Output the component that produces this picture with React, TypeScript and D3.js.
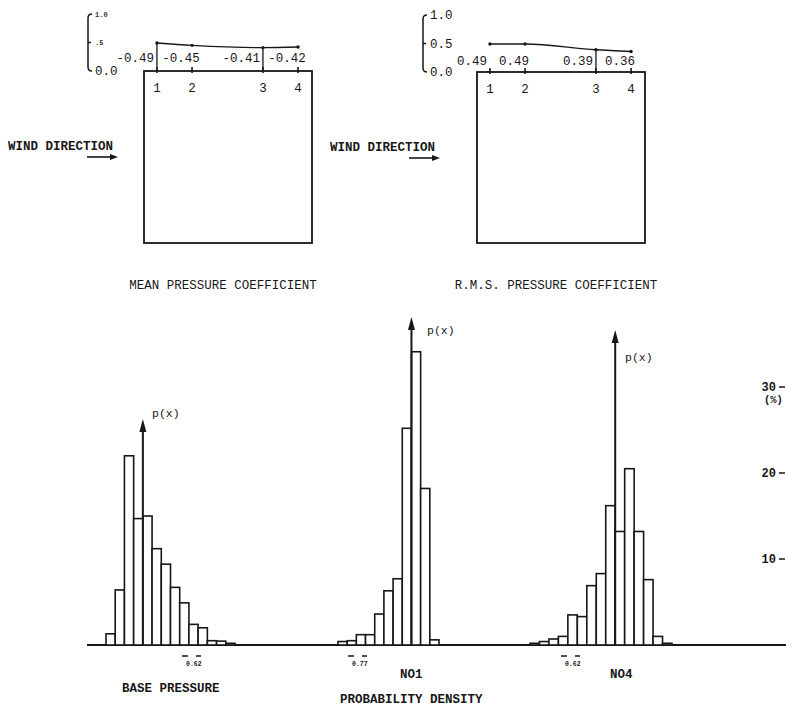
import React from "react";
import * as d3 from "d3";

// ---- data ----
const tapLabels = ["1", "2", "3", "4"];
const tapLocation = [0.077, 0.286, 0.708, 0.917]; // fraction of roof length
const meanCp = [-0.49, -0.45, -0.41, -0.42];
const rmsCp = [0.49, 0.49, 0.39, 0.36];
const coefTicks = [0, 0.5, 1.0];
const meanTickLabels = ["0.0", ".5", "1.0"];
const rmsTickLabels = ["0.0", "0.5", "1.0"];
const meanConnectors = [0, 2];
const rmsConnectors = [2];

const basePressure = [1.3, 6.4, 22.0, 14.7, 15.0, 11.2, 9.4, 6.7, 4.9, 2.4, 2.0, 0.5, 0.45, 0.2];
const no1 = [0.4, 0.5, 1.2, 1.2, 3.6, 6.3, 7.7, 25.2, 34.1, 18.2, 0.6];
const no4 = [0.2, 0.4, 0.7, 1.0, 3.5, 3.3, 6.9, 8.3, 16.2, 13.2, 20.5, 13.2, 7.6, 1.0, 0.2];
const zeroEdges = [4, 8, 9];
const peakLabels = ["0.62", "0.77", "0.62"];
const histNames = ["BASE PRESSURE", "NO1", "NO4"];
const pctTicks = [10, 20, 30];

const ink = "#171717";
const mono = "'Liberation Mono', 'DejaVu Sans Mono', monospace";

function Diagram(props: {
  values: number[];
  left: number;
  right: number;
  top: number;
  bottom: number;
  axisX: number;
  tickLabels: string[];
  faintTicks: boolean;
  connectors: number[];
  labelBaseline: number;
  title: string;
  windX: number;
  windY: number;
}) {
  const { values, left, right, top, bottom, axisX, tickLabels, faintTicks, connectors, labelBaseline, title, windX, windY } = props;
  const x = d3.scaleLinear().domain([0, 1]).range([left, right]);
  const y = d3.scaleLinear().domain([0, 1]).range([top, top - 57]);
  const pts: [number, number][] = values.map((v, i) => [x(tapLocation[i]), y(Math.abs(v))]);
  const line = d3.line().curve(d3.curveMonotoneX)(pts) || "";
  const bracket = `M${axisX + 4},${y(1)} Q${axisX},${y(1)} ${axisX},${y(1) + 4} L${axisX},${y(0) - 4} Q${axisX},${y(0)} ${axisX + 4},${y(0)}`;
  return (
    <g>
      {/* scale bracket */}
      <path d={bracket} fill="none" stroke={ink} strokeWidth={1.5} />
      <line x1={axisX} x2={axisX + 3} y1={y(0.5)} y2={y(0.5)} stroke={ink} strokeWidth={1.5} />
      {coefTicks.map((t, i) => {
        const faint = faintTicks && i > 0;
        return (
          <text
            key={i}
            x={axisX + 7}
            y={y(t) + (faint ? 2.5 : 4)}
            fontFamily={mono}
            fontSize={faint ? 7 : 12.5}
            fontWeight={faint ? "bold" : "normal"}
            fill={faint ? "#333" : ink}
          >
            {tickLabels[i]}
          </text>
        );
      })}
      {/* building box */}
      <rect x={left} y={top} width={right - left} height={bottom - top} fill="none" stroke={ink} strokeWidth={1.8} />
      {/* profile */}
      <path d={line} fill="none" stroke={ink} strokeWidth={1.4} />
      {pts.map((p, i) => (
        <g key={i}>
          <circle cx={p[0]} cy={p[1]} r={1.7} fill={ink} />
          <line x1={p[0]} x2={p[0]} y1={top - 4} y2={top + 2} stroke={ink} strokeWidth={1.6} />
          <text x={p[0]} y={top + 21} textAnchor="middle" fontFamily={mono} fontSize={12.5} fill={ink}>
            {tapLabels[i]}
          </text>
        </g>
      ))}
      {connectors.map((ci) => (
        <line key={ci} x1={pts[ci][0]} x2={pts[ci][0]} y1={pts[ci][1]} y2={top} stroke={ink} strokeWidth={1.3} />
      ))}
      {values.map((v, i) => {
        const isConn = i === 0 || i === 2;
        return (
          <text
            key={i}
            x={isConn ? pts[i][0] - 3 : pts[i][0] - 11}
            y={labelBaseline}
            textAnchor={isConn ? "end" : "middle"}
            fontFamily={mono}
            fontSize={12.5}
            fill={ink}
          >
            {v.toFixed(2)}
          </text>
        );
      })}
      {/* wind direction */}
      <text x={windX} y={windY} fontFamily={mono} fontWeight="bold" fontSize={12.5} fill={ink}>
        WIND DIRECTION
      </text>
      <line x1={windX + 79} x2={windX + 104} y1={windY + 7} y2={windY + 7} stroke={ink} strokeWidth={1.6} />
      <path d={`M${windX + 110},${windY + 7} L${windX + 102},${windY + 4} L${windX + 102},${windY + 10} Z`} fill={ink} />
      <text x={(left + right) / 2 - 5} y={289} textAnchor="middle" fontFamily={mono} fontSize={12.5} fill={ink}>
        {title}
      </text>
    </g>
  );
}

function Histogram(props: {
  values: number[];
  x0: number;
  x1: number;
  zeroEdge: number;
  arrowTop: number;
  labelX: number;
  labelY: number;
  yScale: d3.ScaleLinear<number, number>;
  peak: string;
  peakX: number;
}) {
  const { values, x0, x1, zeroEdge, arrowTop, labelX, labelY, yScale, peak, peakX } = props;
  const xb = d3.scaleBand<number>().domain(d3.range(values.length)).range([x0, x1]).paddingInner(0).paddingOuter(0);
  const ax = x0 + zeroEdge * xb.step();
  const base = yScale(0);
  return (
    <g>
      {values.map((v, i) => (
        <rect
          key={i}
          x={xb(i)}
          y={yScale(v)}
          width={xb.bandwidth()}
          height={base - yScale(v)}
          fill="#fff"
          stroke={ink}
          strokeWidth={1.6}
        />
      ))}
      <line x1={ax} x2={ax} y1={base} y2={arrowTop + 10} stroke={ink} strokeWidth={2} />
      <path d={`M${ax},${arrowTop} L${ax - 3.5},${arrowTop + 13} L${ax + 3.5},${arrowTop + 13} Z`} fill={ink} />
      <text x={labelX} y={labelY} fontFamily={mono} fontSize={11.5} fill={ink}>
        p(x)
      </text>
      {/* small peak marker */}
      <line x1={peakX} x2={peakX + 6} y1={656} y2={656} stroke={ink} strokeWidth={1.5} />
      <line x1={peakX + 14} x2={peakX + 19} y1={656} y2={656} stroke={ink} strokeWidth={1.5} />
      <text x={peakX + 4} y={666} fontFamily={mono} fontWeight="bold" fontSize={6.5} fill={ink}>
        {peak}
      </text>
    </g>
  );
}

export default function App() {
  const W = 786;
  const H = 708;
  const yPct = d3.scaleLinear().domain([0, 30]).range([645, 387]);
  const hists = [
    { values: basePressure, x0: 106, x1: 235, arrowTop: 419, labelX: 152, labelY: 417, peakX: 182 },
    { values: no1, x0: 338, x1: 439, arrowTop: 317, labelX: 427, labelY: 334, peakX: 348 },
    { values: no4, x0: 530, x1: 672, arrowTop: 330, labelX: 625, labelY: 361, peakX: 561 },
  ];
  return (
    <svg width={W} height={H} style={{ position: "absolute", left: 0, top: 0, background: "#fff" }}>
      <rect x={0} y={0} width={W} height={H} fill="#fff" />
      <Diagram
        values={meanCp}
        left={144}
        right={312}
        top={71}
        bottom={243}
        axisX={88}
        tickLabels={meanTickLabels}
        faintTicks={true}
        connectors={meanConnectors}
        labelBaseline={62}
        title="MEAN PRESSURE COEFFICIENT"
        windX={8}
        windY={150}
      />
      <Diagram
        values={rmsCp}
        left={477}
        right={645}
        top={72}
        bottom={243}
        axisX={423}
        tickLabels={rmsTickLabels}
        faintTicks={false}
        connectors={rmsConnectors}
        labelBaseline={65}
        title="R.M.S. PRESSURE COEFFICIENT"
        windX={330}
        windY={151}
      />
      {/* baseline */}
      <line x1={87} x2={W} y1={yPct(0)} y2={yPct(0)} stroke={ink} strokeWidth={2} />
      {hists.map((h, i) => (
        <Histogram
          key={i}
          values={h.values}
          x0={h.x0}
          x1={h.x1}
          zeroEdge={zeroEdges[i]}
          arrowTop={h.arrowTop}
          labelX={h.labelX}
          labelY={h.labelY}
          yScale={yPct}
          peak={peakLabels[i]}
          peakX={h.peakX}
        />
      ))}
      {/* percent axis (cut at right edge) */}
      {pctTicks.map((t) => (
        <g key={t}>
          <text x={776} y={yPct(t) + 4} textAnchor="end" fontFamily={mono} fontWeight="bold" fontSize={12} fill={ink}>
            {t}
          </text>
          <line x1={779} x2={785} y1={yPct(t)} y2={yPct(t)} stroke={ink} strokeWidth={1.5} />
        </g>
      ))}
      <text x={764} y={yPct(30) + 16} fontFamily={mono} fontWeight="bold" fontSize={10.5} fill={ink}>
        (%)
      </text>
      {/* bottom labels */}
      <text x={122} y={692} fontFamily={mono} fontWeight="bold" fontSize={12.5} fill={ink}>
        {histNames[0]}
      </text>
      <text x={400} y={678} fontFamily={mono} fontWeight="bold" fontSize={12.5} fill={ink}>
        {histNames[1]}
      </text>
      <text x={610} y={678} fontFamily={mono} fontWeight="bold" fontSize={12.5} fill={ink}>
        {histNames[2]}
      </text>
      <text x={340} y={703} fontFamily={mono} fontWeight="bold" fontSize={12.5} fill={ink}>
        PROBABILITY DENSITY
      </text>
    </svg>
  );
}
